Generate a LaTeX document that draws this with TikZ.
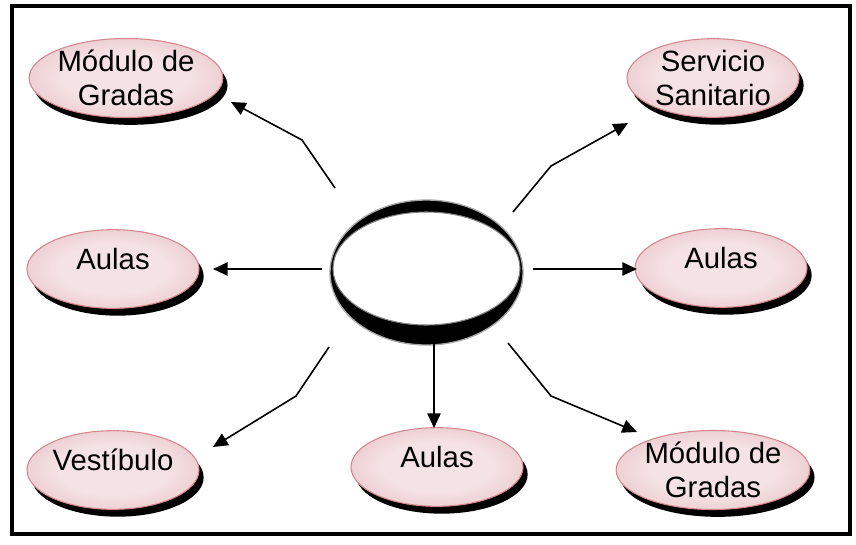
\documentclass[tikz,border=0pt]{standalone}
\usepackage{fontspec}
\setmainfont{Liberation Sans}
\usetikzlibrary{shapes.geometric,shadows,arrows.meta}
\definecolor{salapink}{HTML}{D9A1A6}
\definecolor{salalight}{HTML}{F5E2E4}
\definecolor{salaedge}{HTML}{D3868D}
\pgfdeclareradialshading{salashade}{\pgfpoint{0bp}{0bp}}{color(0bp)=(salalight); color(16bp)=(salalight); color(50bp)=(salapink)}

\begin{document}
\begin{tikzpicture}[x=0.75pt,y=-0.75pt,
  sala/.style={ellipse, draw=salaedge, line width=0.8pt, shade, shading=salashade,
    minimum width=129pt, minimum height=59pt, inner sep=0pt, align=center,
    font=\fontsize{22}{25.5}\selectfont,
    drop shadow={shadow xshift=3.5pt, shadow yshift=-5.5pt, fill=black, opacity=1}},
  uno/.style={text height=16pt, text depth=15pt},
  flecha/.style={line width=1.2pt, -{Triangle[length=11pt,width=10pt]}}]
\useasboundingbox (0,0) rectangle (856,544);
\draw[line width=3.2pt] (12,6) rectangle (850,534);

\node[ellipse, fill=black, draw=gray!70, line width=1pt, minimum width=144.75pt, minimum height=108.75pt] (hub) at (426.5,272.5) {};
\node[ellipse, fill=white, draw=gray, line width=0.8pt, minimum width=140.25pt, minimum height=84.75pt] (hubin) at (426.5,268.5) {};

\node[sala] (mg1) at (126,78) {Módulo de\\Gradas};
\node[sala] (ss) at (713,78) {Servicio\\Sanitario};
\node[sala, uno] (aL) at (113,269) {Aulas};
\node[sala, uno] (aR) at (721,268) {Aulas};
\node[sala, uno] (ve) at (113,470) {Vestíbulo};
\node[sala, uno] (aB) at (437,467) {Aulas};
\node[sala] (mg2) at (713,470) {Módulo de\\Gradas};

\coordinate (s1) at (335,188); \coordinate (b1) at (302,140); \coordinate (t1) at (231,102);
\coordinate (s2) at (513,212); \coordinate (b2) at (551,166); \coordinate (t2) at (628,123);
\coordinate (s3) at (322,269); \coordinate (t3) at (213,269);
\coordinate (s4) at (533,269); \coordinate (t4) at (637,269);
\coordinate (s5) at (329,347); \coordinate (b5) at (296,396); \coordinate (t5) at (213,447);
\coordinate (s6) at (434,344); \coordinate (t6) at (434,428);
\coordinate (s7) at (508,343); \coordinate (b7) at (551,396); \coordinate (t7) at (637,432);

\draw[flecha] (s1) -- (b1) -- (t1);
\draw[flecha] (s2) -- (b2) -- (t2);
\draw[flecha] (s3) -- (t3);
\draw[flecha] (s4) -- (t4);
\draw[flecha] (s5) -- (b5) -- (t5);
\draw[flecha] (s6) -- (t6);
\draw[flecha] (s7) -- (b7) -- (t7);
\end{tikzpicture}
\end{document}
